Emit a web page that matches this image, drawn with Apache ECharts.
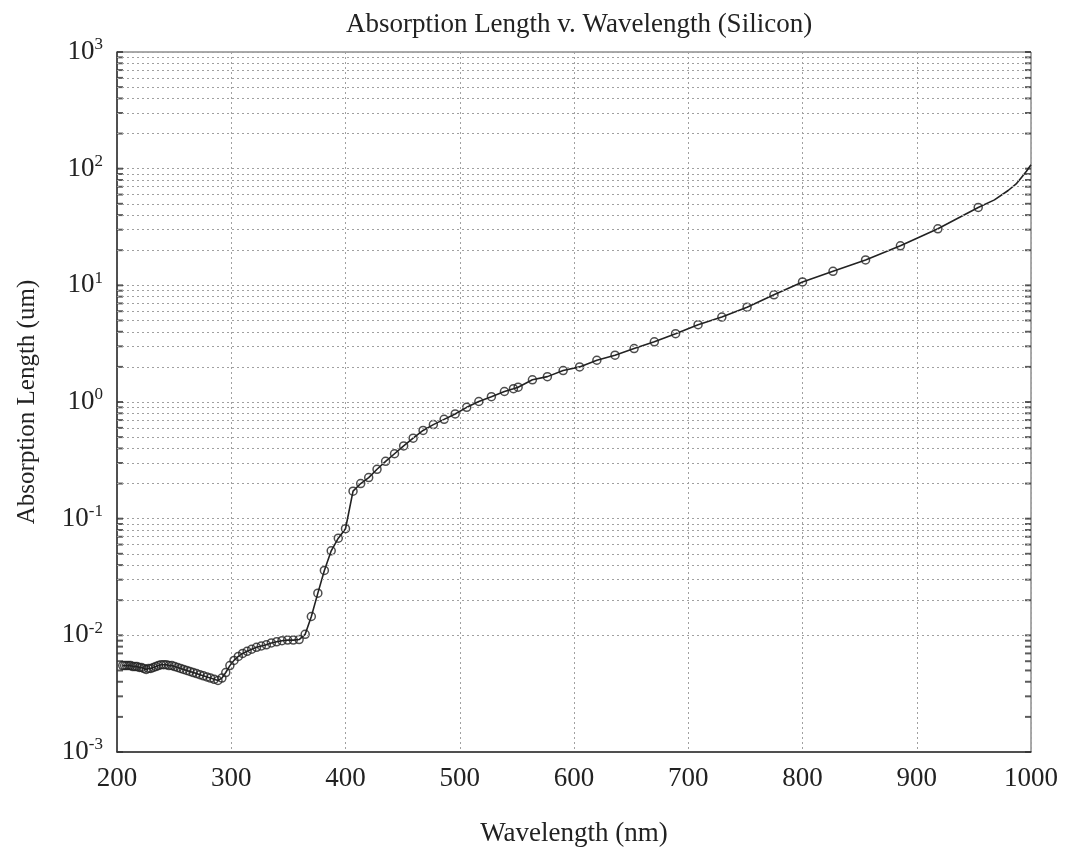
<!DOCTYPE html>
<html><head><meta charset="utf-8">
<script src="https://cdn.jsdelivr.net/npm/echarts@6/dist/echarts.min.js"></script>
<style>html,body{margin:0;padding:0;background:#fff}#c{width:1066px;height:855px}</style>
</head><body><div id="c"></div>
<script>
// Marked data points (wavelength nm, absorption length um)
const wavelengths = [205.0,206.7,208.4,210.2,212.0,213.8,215.7,217.5,219.5,221.4,
  223.4,225.5,227.5,229.6,231.8,234.0,236.2,238.5,240.8,243.1,
  245.5,248.0,250.5,253.1,255.7,258.3,261.1,263.8,266.7,269.6,
  272.5,275.6,278.7,281.8,285.1,288.4,291.8,295.2,298.8,302.4,
  306.2,310.0,313.9,317.9,322.1,326.3,330.7,335.1,339.7,344.4,
  349.3,354.3,359.4,364.7,370.1,375.8,381.5,387.5,393.7,400.0,
  406.6,413.3,420.3,427.6,435.1,442.9,450.9,459.2,467.9,476.9,
  486.3,496.0,506.1,516.7,527.7,539.1,547.0,551.1,563.6,576.7,
  590.5,604.9,620.0,635.9,652.6,670.3,688.9,708.6,729.4,751.5,
  775.0,800.0,826.7,855.2,885.7,918.5,953.8];
const absorptionLength = [0.0055,0.0055,0.0055,0.0055,0.0055,0.0054,0.0054,0.0054,0.0053,0.0053,
  0.0052,0.0051,0.0052,0.0052,0.0053,0.0054,0.0055,0.0056,0.0056,0.0056,
  0.0055,0.0055,0.0054,0.0053,0.0052,0.0051,0.0050,0.0049,0.0048,0.0047,
  0.0046,0.0045,0.0044,0.0043,0.0042,0.0041,0.0043,0.0048,0.0055,0.0061,
  0.0066,0.0070,0.0073,0.0076,0.0079,0.0081,0.0083,0.0086,0.0088,0.0090,
  0.0091,0.0091,0.0092,0.0102,0.0145,0.023,0.036,0.053,0.068,0.082,
  0.172,0.200,0.225,0.265,0.310,0.360,0.420,0.490,0.570,0.640,
  0.710,0.790,0.900,1.01,1.11,1.23,1.30,1.34,1.55,1.65,
  1.86,2.00,2.28,2.52,2.87,3.28,3.85,4.60,5.35,6.50,
  8.30,10.7,13.2,16.5,21.8,30.5,46.5];
// Unmarked tail of the curve
const tailWavelengths = [968, 980, 987, 992, 996, 1000];
const tailValues = [54, 65, 74, 85, 95, 108];

const xTicks = [200,300,400,500,600,700,800,900,1000];
const yDecades = [1e-3,1e-2,1e-1,1e0,1e1,1e2,1e3];
const minorMultipliers = [2,3,4,5,6,7,8,9];

const minorValues = [];
yDecades.slice(0,-1).forEach(d => minorMultipliers.forEach(m => minorValues.push(+(d*m).toPrecision(3))));

const markerData = wavelengths.map((w,i) => [w, absorptionLength[i]]);
const lineData = markerData.concat(tailWavelengths.map((w,i) => [w, tailValues[i]]));
const tickLeft = minorValues.concat(yDecades).map(v => [xTicks[0], v]);
const tickRight = minorValues.concat(yDecades).map(v => [xTicks[xTicks.length-1], v]);

const FONT = 'Liberation Serif';
const chart = echarts.init(document.getElementById('c'), null, {renderer:'canvas'});
const dotted = {type:[2,3], color:'#a0a0a0', width:1};

chart.setOption({
  animation:false,
  backgroundColor:'#fff',
  title:{
    text:'Absorption Length v. Wavelength (Silicon)',
    left:574, top:6, textAlign:'center',
    textStyle:{fontFamily:FONT, fontSize:27, fontWeight:'normal', color:'#222'}
  },
  grid:{left:117, right:35, top:52, bottom:103, show:true, borderColor:'#555', borderWidth:1},
  xAxis:{
    type:'value', min:200, max:1000, interval:100,
    name:'Wavelength (nm)', nameLocation:'middle', nameGap:68,
    nameTextStyle:{fontFamily:FONT, fontSize:27, color:'#222'},
    axisLine:{show:true, onZero:false, lineStyle:{color:'#333', width:1.5}},
    axisTick:{show:false},
    axisLabel:{fontFamily:FONT, fontSize:27, color:'#222', margin:13, formatter: v => String(v)},
    splitLine:{show:true, lineStyle:dotted}
  },
  yAxis:{
    type:'log', logBase:10, min:1e-3, max:1e3, splitNumber:6,
    name:'Absorption Length (um)', nameLocation:'middle', nameGap:77,
    nameTextStyle:{fontFamily:FONT, fontSize:25, color:'#222'},
    axisLine:{show:true, lineStyle:{color:'#333', width:1.5}},
    axisTick:{show:false},
    axisLabel:{
      margin:14,
      formatter: v => '{b|10}{s|' + Math.round(Math.log10(v)) + '}',
      rich:{
        b:{fontFamily:FONT, fontSize:27, color:'#222'},
        s:{fontFamily:FONT, fontSize:17, color:'#222', verticalAlign:'top', padding:[0,0,14,0]}
      }
    },
    splitLine:{show:true, lineStyle:dotted}
  },
  series:[
    {
      type:'line', data:[], silent:true,
      markLine:{
        silent:true, symbol:'none', label:{show:false},
        lineStyle:dotted,
        data: minorValues.map(v => ({yAxis:v}))
      }
    },
    {
      type:'scatter', data:tickLeft, symbol:'rect', symbolSize:[6,2], symbolOffset:[3,0],
      itemStyle:{color:'#333'}, silent:true, clip:false
    },
    {
      type:'scatter', data:tickRight, symbol:'rect', symbolSize:[6,2], symbolOffset:[-3,0],
      itemStyle:{color:'#333'}, silent:true, clip:false
    },
    {
      type:'line', data:lineData, showSymbol:false, smooth:false,
      lineStyle:{color:'#222', width:1.6}, silent:true
    },
    {
      type:'scatter', data:markerData, symbol:'circle', symbolSize:8,
      itemStyle:{color:'rgba(255,255,255,0)', borderColor:'#222', borderWidth:1.5}, silent:true
    }
  ]
});
</script>
</body></html>
